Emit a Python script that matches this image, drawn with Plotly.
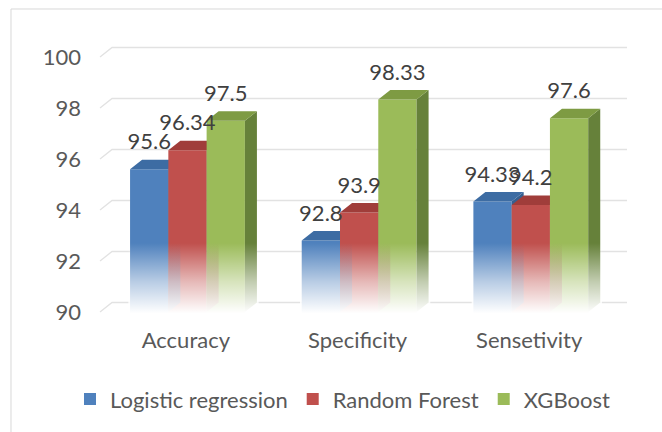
import plotly.graph_objects as go

# ---- data ----
categories = ["Accuracy", "Specificity", "Sensetivity"]
series_names = ["Logistic regression", "Random Forest", "XGBoost"]
logistic_regression = [95.6, 92.8, 94.33]
random_forest = [96.34, 93.9, 94.2]
xgboost = [97.5, 98.33, 97.6]
y_ticks = [90, 92, 94, 96, 98, 100]

series_values = [logistic_regression, random_forest, xgboost]

# ---- style ----
FONT = "Lato"
FONT_SIZE = 22
AXIS_TEXT = "#595959"
LABEL_TEXT = "#404040"
GRID = "#E2E2E2"
FLOOR = 90
DX, DY = 0.07, 0.373          # depth of the pseudo-3D boxes (x units, y units)
BAR_W = 0.223
OFFSETS = [-0.325, -0.102, 0.121]
LABEL_LIFT = 1.0
FADE_TOP = 92.7

# front, top, side colours per series
PALETTE = [
    ("#4F81BD", "#3D6CA3", "#365F8F"),
    ("#C0504D", "#A03D3A", "#8E3533"),
    ("#9BBB59", "#7E9B43", "#66813A"),
]

pos = list(range(len(categories)))
x_lo, x_hi = -0.5, len(categories) - 0.5

fig = go.Figure()

# back-wall gridlines with the short perspective leg on the left
gx, gy = [], []
for t in y_ticks:
    gx += [x_lo, x_lo + DX, x_hi + DX, None]
    gy += [t, t + DY, t + DY, None]
fig.add_trace(go.Scatter(x=gx, y=gy, mode="lines", line=dict(color=GRID, width=1.3),
                         hoverinfo="skip", showlegend=False, zorder=0))


def poly_trace(xs, ys, color, z, **kw):
    return go.Scatter(x=xs, y=ys, mode="lines", fill="toself", fillcolor=color,
                      line=dict(width=0, color=color), hoverinfo="skip",
                      showlegend=False, zorder=z, **kw)


for s, (name, vals) in enumerate(zip(series_names, series_values)):
    front, top, side = PALETTE[s]
    z = 1 + 3 * s
    fig.add_trace(go.Bar(
        x=pos, y=vals, name=name, width=BAR_W, offset=OFFSETS[s],
        marker=dict(color=front, line=dict(width=0)), zorder=z,
        hovertemplate="%{y}<extra>" + name + "</extra>",
    ))
    tx, ty, sx, sy = [], [], [], []
    for p, v in zip(pos, vals):
        xl = p + OFFSETS[s]
        xr = xl + BAR_W
        tx += [xl, xr, xr + DX, xl + DX, xl, None]
        ty += [v, v, v + DY, v + DY, v, None]
        sx += [xr, xr, xr + DX, xr + DX, xr, None]
        sy += [FLOOR, v, v + DY, FLOOR + DY, FLOOR, None]
    fig.add_trace(poly_trace(sx, sy, side, z + 1))
    fig.add_trace(poly_trace(tx, ty, top, z + 1))

# side faces of the first two series glimpsed through the faded lower part
for s in range(2):
    side = PALETTE[s][2]
    r, g, b = int(side[1:3], 16), int(side[3:5], 16), int(side[5:7], 16)
    bx, by = [], []
    for p, v in zip(pos, series_values[s]):
        xr = p + OFFSETS[s] + BAR_W
        ytop = min(v, FADE_TOP - 0.1)
        bx += [xr, xr, xr + DX, xr + DX, xr, None]
        by += [FLOOR, ytop, ytop + DY, FLOOR + DY, FLOOR, None]
    fig.add_trace(poly_trace(
        bx, by, "rgba(0,0,0,0)", 15,
        fillgradient=dict(type="vertical", start=FLOOR, stop=FADE_TOP,
                          colorscale=[[0, f"rgba({r},{g},{b},0.75)"],
                                      [1, f"rgba({r},{g},{b},0)"]]),
    ))

# soft fade of every bar group towards the floor
fx, fy = [], []
for p in pos:
    left = p + OFFSETS[0] - 0.01
    right = p + OFFSETS[2] + BAR_W + DX + 0.01
    fx += [left, right, right, left, left, None]
    fy += [89.0, 89.0, FADE_TOP + DY, FADE_TOP + DY, 89.0, None]
fig.add_trace(poly_trace(
    fx, fy, "rgba(255,255,255,0)", 20,
    fillgradient=dict(type="vertical", start=FLOOR - 0.05, stop=FADE_TOP,
                      colorscale=[[0, "rgba(255,255,255,1)"],
                                  [0.45, "rgba(255,255,255,0.6)"],
                                  [1, "rgba(255,255,255,0)"]]),
))

# value labels
for s, vals in enumerate(series_values):
    fig.add_trace(go.Scatter(
        x=[p + OFFSETS[s] + BAR_W / 2 for p in pos],
        y=[v + LABEL_LIFT for v in vals],
        text=[f"{v:g}" for v in vals], mode="text", textposition="middle center",
        textfont=dict(family=FONT, size=FONT_SIZE, color=LABEL_TEXT),
        hoverinfo="skip", showlegend=False, zorder=30, cliponaxis=False,
    ))

fig.update_layout(
    width=662, height=432,
    margin=dict(l=82, r=27, t=35, b=108),
    paper_bgcolor="white", plot_bgcolor="white",
    font=dict(family=FONT, size=FONT_SIZE, color=AXIS_TEXT),
    barmode="overlay",
    showlegend=True,
    legend=dict(orientation="h", x=-0.0217, xanchor="left", y=-0.26, yanchor="middle",
                font=dict(family=FONT, size=FONT_SIZE, color=AXIS_TEXT),
                bgcolor="rgba(0,0,0,0)"),
    xaxis=dict(range=[-0.605, 2.6165], tickvals=pos, ticktext=categories,
               showgrid=False, zeroline=False, showline=False, ticks="",
               ticklabelstandoff=1,
               tickfont=dict(family=FONT, size=FONT_SIZE, color=AXIS_TEXT), fixedrange=True),
    yaxis=dict(range=[89.529, 100.863], tickvals=y_ticks, showgrid=False,
               zeroline=False, showline=False, ticks="",
               tickfont=dict(family=FONT, size=FONT_SIZE, color=AXIS_TEXT), fixedrange=True),
    shapes=[dict(type="rect", xref="paper", yref="paper",
                 x0=-0.1284, x1=1.08, y0=-0.5, y1=1.09,
                 line=dict(color="#D9D9D9", width=1), fillcolor="rgba(0,0,0,0)",
                 layer="below")],
)

fig.write_html("out.html")
